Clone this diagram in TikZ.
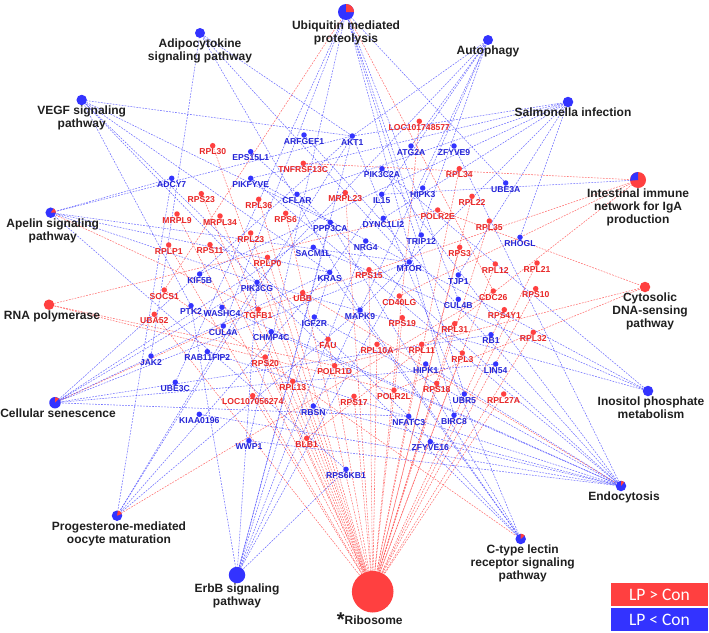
\documentclass[tikz,border=0pt]{standalone}
\usepackage{fontspec}
\setmainfont{Liberation Sans}
\newfontfamily\legfont{Carlito}
\usetikzlibrary{backgrounds}
\definecolor{nred}{RGB}{255,64,64}
\definecolor{nblue}{RGB}{51,51,255}
\definecolor{tred}{RGB}{232,38,38}
\definecolor{tblue}{RGB}{36,36,214}
\tikzset{
  rdot/.style={circle, fill=nred, inner sep=0pt, minimum size=5.5pt, label distance=2pt},
  bdot/.style={circle, fill=nblue, inner sep=0pt, minimum size=5.5pt, label distance=2pt},
  rl/.style={text=tred, font=\fontsize{8.6}{10}\selectfont\bfseries, inner sep=0pt},
  bl/.style={text=tblue, font=\fontsize{8.6}{10}\selectfont\bfseries, inner sep=0pt},
  pw/.style={circle, inner sep=0pt, label distance=1pt},
  pl/.style={text=black!88, font=\fontsize{12}{13}\selectfont\bfseries, align=center, inner sep=0pt},
  re/.style={nred, opacity=0.75, line width=0.55pt, dash pattern=on 1.8pt off 1.2pt},
  be/.style={nblue, opacity=0.7, line width=0.55pt, dash pattern=on 1.8pt off 1.2pt},
  legbox/.style={minimum width=97pt, minimum height=23pt, inner sep=0pt, text=white, font=\legfont\fontsize{17.5}{17.5}\selectfont}
}
\begin{document}
\begin{tikzpicture}[x=1pt,y=-1pt]
        \useasboundingbox (0,0) rectangle (709,632);
        % pathways
        \node[pw, fill=nblue, minimum size=16pt, label={[pl]below:{Ubiquitin mediated\\proteolysis}}] (ubiq) at (346,12) {};
        \node[pw, fill=nblue, minimum size=10pt, label={[pl]below:{Adipocytokine\\signaling pathway}}] (adipo) at (200,33) {};
        \node[pw, fill=nblue, minimum size=10pt, label={[pl]below:{Autophagy}}] (autoph) at (488,40) {};
        \node[pw, fill=nblue, minimum size=10.5pt, label={[pl]below:{VEGF signaling\\pathway}}] (vegf) at (81.7,100) {};
        \node[pw, fill=nblue, minimum size=10.5pt, label={[pl, xshift=5pt]below:{Salmonella infection}}] (salmo) at (568,102) {};
        \node[pw, fill=nred, minimum size=16pt, label={[pl]below:{Intestinal immune\\network for IgA\\production}}] (iga) at (638,180) {};
        \node[pw, fill=nblue, minimum size=10.5pt, label={[pl, xshift=2pt]below:{Apelin signaling\\pathway}}] (apelin) at (50.7,212.7) {};
        \node[pw, fill=nred, minimum size=10.5pt, label={[pl, xshift=3pt]below:{RNA polymerase}}] (rnapol) at (49,304.7) {};
        \node[pw, fill=nred, minimum size=10.5pt, label={[pl, xshift=5pt]below:{Cytosolic\\DNA-sensing\\pathway}}] (cyto) at (645,287) {};
        \node[pw, fill=nblue, minimum size=11.5pt, label={[pl, xshift=3pt]below:{Cellular senescence}}] (senes) at (55,402.7) {};
        \node[pw, fill=nblue, minimum size=10.5pt, label={[pl, xshift=3pt]below:{Inositol phosphate\\metabolism}}] (inosi) at (648,391) {};
        \node[pw, fill=nblue, minimum size=10.5pt, label={[pl, xshift=2pt]below:{Progesterone-mediated\\oocyte maturation}}] (proge) at (117,515.7) {};
        \node[pw, fill=nblue, minimum size=16.5pt, label={[pl]below:{ErbB signaling\\pathway}}] (erbb) at (237,575) {};
        \node[pw, fill=nred, minimum size=41.6pt, label={[pl, label distance=0pt, xshift=-3pt]below:{\raisebox{-2pt}{\fontsize{20}{20}\selectfont *}Ribosome}}] (ribo) at (372.7,591.7) {};
        \node[pw, fill=nblue, minimum size=10.5pt, label={[pl, xshift=2pt]below:{C-type lectin\\receptor signaling\\pathway}}] (clr) at (520.7,539) {};
        \node[pw, fill=nblue, minimum size=10.5pt, label={[pl, xshift=3pt]below:{Endocytosis}}] (endo) at (621,486) {};
        \fill[nred] (ubiq.center) -- ++(0:8) arc[start angle=0, end angle=-90, radius=8] -- cycle;
        \fill[nblue] (iga.center) -- ++(-90:8) arc[start angle=-90, end angle=-185, radius=8] -- cycle;
        \fill[nred] (apelin.center) -- ++(0:5.25) arc[start angle=0, end angle=-55, radius=5.25] -- cycle;
        \fill[nred] (senes.center) -- ++(-45:5.75) arc[start angle=-45, end angle=-90, radius=5.75] -- cycle;
        \fill[nred] (proge.center) -- ++(-20:5.25) arc[start angle=-20, end angle=-80, radius=5.25] -- cycle;
        \fill[nred] (clr.center) -- ++(-40:5.25) arc[start angle=-40, end angle=-90, radius=5.25] -- cycle;
        \fill[nred] (endo.center) -- ++(-50:5.25) arc[start angle=-50, end angle=-90, radius=5.25] -- cycle;
        % up-regulated genes
        \node[rdot, label={[rl]below:RPL30}] (rpl30) at (212.7,145.7) {};
        \node[rdot, label={[rl]below:RPS23}] (rps23) at (201.3,193.7) {};
        \node[rdot, label={[rl]below:RPL36}] (rpl36) at (258.7,199.3) {};
        \node[rdot, label={[rl]below:MRPL9}] (mrpl9) at (177,214) {};
        \node[rdot, label={[rl]below:MRPL34}] (mrpl34) at (220,216) {};
        \node[rdot, label={[rl]below:RPL23}] (rpl23) at (250.7,233) {};
        \node[rdot, label={[rl]below:RPLP1}] (rplp1) at (168.7,245) {};
        \node[rdot, label={[rl]below:RPS11}] (rps11) at (210,244.7) {};
        \node[rdot, label={[rl]below:LOC101748577}] (locb) at (419.3,121.3) {};
        \node[rdot, label={[rl]below:TNFRSF13C}] (tnfrsf) at (303.3,163.3) {};
        \node[rdot, label={[rl]below:RPL34}] (rpl34) at (459.3,168.7) {};
        \node[rdot, label={[rl]below:RPL22}] (rpl22) at (472,196.3) {};
        \node[rdot, label={[rl]below:MRPL23}] (mrpl23) at (345.3,192.7) {};
        \node[rdot, label={[rl]below:RPS6}] (rps6) at (285.7,213.3) {};
        \node[rdot, label={[rl]below:POLR2E}] (polr2e) at (437.7,210) {};
        \node[rdot, label={[rl]below:RPL35}] (rpl35) at (489.3,221) {};
        \node[rdot, label={[rl]below:RPS3}] (rps3) at (459.7,247.3) {};
        \node[rdot, label={[rl]below:SOCS1}] (socs1) at (164.3,290) {};
        \node[rdot, label={[rl]below:UBA52}] (uba52) at (154.3,314.3) {};
        \node[rdot, label={[rl]below:TGFB1}] (tgfb1) at (258.3,309.3) {};
        \node[rdot, label={[rl]below:RPS20}] (rps20) at (265.3,357) {};
        \node[rdot, label={[rl]below:LOC107056274}] (loca) at (252.7,395.7) {};
        \node[rdot, label={[rl]below:RPLP0}] (rplp0) at (267.5,257.3) {};
        \node[rdot, label={[rl]below:RPS15}] (rps15) at (369,269.7) {};
        \node[rdot, label={[rl]below:UBB}] (ubb) at (302.7,292.7) {};
        \node[rdot, label={[rl]below:CD40LG}] (cd40lg) at (399.3,296) {};
        \node[rdot, label={[rl]below:RPS19}] (rps19) at (402.3,317.7) {};
        \node[rdot, label={[rl]below:RPL31}] (rpl31) at (454.7,323.7) {};
        \node[rdot, label={[rl]below:FAU}] (fau) at (328,339.3) {};
        \node[rdot, label={[rl]below:RPL10A}] (rpl10a) at (377,344.3) {};
        \node[rdot, label={[rl]below:RPL11}] (rpl11) at (421.7,344.3) {};
        \node[rdot, label={[rl]below:RPL3}] (rpl3) at (462.3,353) {};
        \node[rdot, label={[rl]below:POLR1D}] (polr1d) at (334.7,365.7) {};
        \node[rdot, label={[rl]below:RPL13}] (rpl13) at (292.7,381.3) {};
        \node[rdot, label={[rl]below:RPS18}] (rps18) at (436.7,383.3) {};
        \node[rdot, label={[rl]below:POLR2L}] (polr2l) at (394,390.3) {};
        \node[rdot, label={[rl]below:RPS17}] (rps17) at (354,396.3) {};
        \node[rdot, label={[rl]below:RPL12}] (rpl12) at (495.3,264) {};
        \node[rdot, label={[rl]below:RPL21}] (rpl21) at (537,263) {};
        \node[rdot, label={[rl]below:CDC26}] (cdc26) at (493.3,291) {};
        \node[rdot, label={[rl]below:RPS10}] (rps10) at (535.7,288.7) {};
        \node[rdot, label={[rl]below:RPS4Y1}] (rps4y1) at (504.3,309.7) {};
        \node[rdot, label={[rl]below:RPL32}] (rpl32) at (533.3,332.3) {};
        \node[rdot, label={[rl]below:RPL27A}] (rpl27a) at (503.7,394) {};
        \node[rdot, label={[rl]below:BLB1}] (blb1) at (306.7,438.3) {};
        % down-regulated genes
        \node[bdot, label={[bl]below:EPS15L1}] (eps15l1) at (250.7,151.7) {};
        \node[bdot, label={[bl]below:ADCY7}] (adcy7) at (171.7,178.3) {};
        \node[bdot, label={[bl]below:PIKFYVE}] (pikfyve) at (250.7,178.3) {};
        \node[bdot, label={[bl]below:ARFGEF1}] (arfgef1) at (304,135) {};
        \node[bdot, label={[bl]below:AKT1}] (akt1) at (352.3,136) {};
        \node[bdot, label={[bl]below:ATG2A}] (atg2a) at (411,146) {};
        \node[bdot, label={[bl]below:ZFYVE9}] (zfyve9) at (454,146) {};
        \node[bdot, label={[bl]below:PIK3C2A}] (pik3c2a) at (382,168.7) {};
        \node[bdot, label={[bl]below:HIPK3}] (hipk3) at (422.7,188) {};
        \node[bdot, label={[bl]below:CFLAR}] (cflar) at (297,194.3) {};
        \node[bdot, label={[bl]below:IL15}] (il15) at (381.7,194.3) {};
        \node[bdot, label={[bl]below:DYNC1LI2}] (dync1li2) at (383.3,218.3) {};
        \node[bdot, label={[bl]below:PPP3CA}] (ppp3ca) at (330.3,222.3) {};
        \node[bdot, label={[bl]below:TRIP12}] (trip12) at (421.3,235) {};
        \node[bdot, label={[bl]below:NRG4}] (nrg4) at (365.7,241) {};
        \node[bdot, label={[bl]below:SACM1L}] (sacm1l) at (313.3,247.3) {};
        \node[bdot, label={[bl]below:UBE3A}] (ube3a) at (505.7,183) {};
        \node[bdot, label={[bl]below:RHOGL}] (rhogl) at (520,237.3) {};
        \node[bdot, label={[bl]below:KIF5B}] (kif5b) at (199.7,274) {};
        \node[bdot, label={[bl]below:PTK2}] (ptk2) at (191,305.7) {};
        \node[bdot, label={[bl]below:WASHC4}] (washc4) at (222,307.3) {};
        \node[bdot, label={[bl]below:CUL4A}] (cul4a) at (223.3,326) {};
        \node[bdot, label={[bl]below:JAK2}] (jak2) at (151,356) {};
        \node[bdot, label={[bl]below:RAB11FIP2}] (rab11fip2) at (207.3,351.7) {};
        \node[bdot, label={[bl]below:UBE3C}] (ube3c) at (175.3,382.3) {};
        \node[bdot, label={[bl]below:KIAA0196}] (kiaa0196) at (199.3,414.3) {};
        \node[bdot, label={[bl]below:PIK3CG}] (pik3cg) at (257,282.3) {};
        \node[bdot, label={[bl]below:CHMP4C}] (chmp4c) at (271.2,331.8) {};
        \node[bdot, label={[bl]below:KRAS}] (kras) at (329.7,272.3) {};
        \node[bdot, label={[bl]below:MTOR}] (mtor) at (409.3,262) {};
        \node[bdot, label={[bl]below:TJP1}] (tjp1) at (458.3,275) {};
        \node[bdot, label={[bl]below:CUL4B}] (cul4b) at (458.3,299.3) {};
        \node[bdot, label={[bl]below:IGF2R}] (igf2r) at (314.3,317) {};
        \node[bdot, label={[bl]below:MAPK9}] (mapk9) at (360,310) {};
        \node[bdot, label={[bl]below:RB1}] (rb1) at (491,334.7) {};
        \node[bdot, label={[bl]below:LIN54}] (lin54) at (495.7,364) {};
        \node[bdot, label={[bl]below:HIPK1}] (hipk1) at (425.7,364) {};
        \node[bdot, label={[bl]below:UBR5}] (ubr5) at (464.3,394) {};
        \node[bdot, label={[bl]below:RBSN}] (rbsn) at (313.3,406) {};
        \node[bdot, label={[bl]below:NFATC3}] (nfatc3) at (408.7,416.3) {};
        \node[bdot, label={[bl]below:BIRC8}] (birc8) at (454,415.3) {};
        \node[bdot, label={[bl]below:WWP1}] (wwp1) at (249,440.7) {};
        \node[bdot, label={[bl]below:ZFYVE16}] (zfyve16) at (430.3,441.7) {};
        \node[bdot, label={[bl]below:RPS6KB1}] (rps6kb1) at (346,469.3) {};
        % legend
        \node[legbox, fill=nred] (lpup) at (659.5,594.5) {LP > Con};
        \node[legbox, fill=nblue] (lpdown) at (659.5,619.5) {LP < Con};
        \begin{scope}[on background layer]
        \foreach \g in {rpl30,rps23,rpl36,mrpl9,mrpl34,rpl23,rplp1,rps11,locb,rpl34,rpl22,mrpl23,rps6,rpl35,rps3,uba52,rps20,loca,rplp0,rps15,rps19,rpl31,fau,rpl10a,rpl11,rpl3,rpl13,rps18,rps17,rpl12,rpl21,rps10,rps4y1,rpl32,rpl27a}
            \draw[re] (\g) -- (ribo);
        \foreach \g in {polr2e,polr1d,polr2l} {
            \draw[re] (\g) -- (rnapol);
            \draw[re] (\g) -- (cyto);
        }
        \foreach \g in {tnfrsf,cd40lg,tgfb1,blb1} \draw[re] (\g) -- (iga);
        \foreach \g in {cdc26,socs1} \draw[re] (\g) -- (ubiq);
        \draw[re] (tgfb1) -- (apelin);
        \draw[re] (tgfb1) -- (senes);
        \draw[re] (cdc26) -- (proge);
        \draw[re] (socs1) -- (clr);
        \draw[re] (ubb) -- (endo);
        \draw[be] (il15) -- (iga);
        \foreach \g in {ube3a,ube3c,cul4a,cul4b,wwp1,ubr5,birc8,trip12} \draw[be] (\g) -- (ubiq);
        \foreach \g in {akt1,atg2a,mtor,kras,mapk9,pik3cg,hipk3} \draw[be] (\g) -- (autoph);
        \foreach \g in {akt1,mtor,mapk9,jak2} \draw[be] (\g) -- (adipo);
        \foreach \g in {akt1,kras,ppp3ca,ptk2,pik3cg,nfatc3} \draw[be] (\g) -- (vegf);
        \foreach \g in {rhogl,dync1li2,kif5b,akt1,mapk9,pikfyve,cflar,tjp1} \draw[be] (\g) -- (salmo);
        \foreach \g in {adcy7,kras,akt1,mtor,rps6kb1,pik3cg} \draw[be] (\g) -- (apelin);
        \foreach \g in {akt1,mtor,kras,rb1,lin54,ppp3ca,nfatc3,pik3cg} \draw[be] (\g) -- (senes);
        \foreach \g in {pikfyve,pik3c2a,pik3cg,sacm1l} \draw[be] (\g) -- (inosi);
        \foreach \g in {adcy7,akt1,kras,mapk9,pik3cg} \draw[be] (\g) -- (proge);
        \foreach \g in {akt1,kras,mtor,mapk9,nrg4,ptk2,rps6kb1,pik3cg,ppp3ca} \draw[be] (\g) -- (erbb);
        \foreach \g in {akt1,kras,ppp3ca,nfatc3,mapk9,pik3cg} \draw[be] (\g) -- (clr);
        \foreach \g in {arfgef1,eps15l1,pikfyve,pik3c2a,zfyve9,zfyve16,rbsn,washc4,kiaa0196,chmp4c,rab11fip2,wwp1,igf2r,hipk1} \draw[be] (\g) -- (endo);
        \end{scope}
\end{tikzpicture}
\end{document}
